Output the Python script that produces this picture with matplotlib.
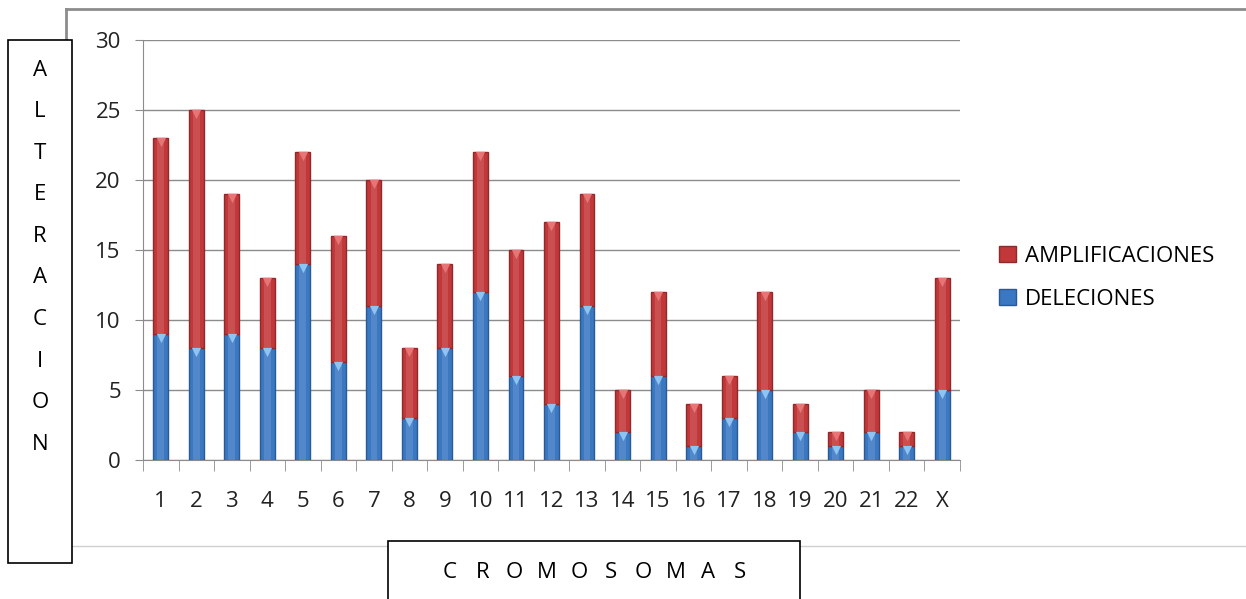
import matplotlib.pyplot as plt
import numpy as np
from matplotlib.patches import Rectangle
from matplotlib.lines import Line2D

plt.rcParams['font.family'] = ['Open Sans', 'DejaVu Sans']

# chromosome labels and counts
cromosomas = ['1', '2', '3', '4', '5', '6', '7', '8', '9', '10', '11', '12',
              '13', '14', '15', '16', '17', '18', '19', '20', '21', '22', 'X']
deleciones = [9, 8, 9, 8, 14, 7, 11, 3, 8, 12, 6, 4, 11, 2, 6, 1, 3, 5, 2, 1, 2, 1, 5]
amplificaciones = [14, 17, 10, 5, 8, 9, 9, 5, 6, 10, 9, 13, 8, 3, 6, 3, 3, 7, 2, 1, 3, 1, 8]

blue = '#3b78c2'
red = '#c2373a'
fs = 16

fig = plt.figure(figsize=(12.46, 5.99), dpi=100)

# outer chart frame (grey, partly hidden by the title boxes)
fig.add_artist(Line2D([66 / 1246, 1.0], [1 - 9 / 599, 1 - 9 / 599], color='#8c8c8c', lw=2, zorder=1))
fig.add_artist(Line2D([66 / 1246, 66 / 1246], [1 - 9 / 599, 1 - 546 / 599], color='#8c8c8c', lw=2, zorder=1))
fig.add_artist(Line2D([66 / 1246, 1.0], [1 - 546 / 599, 1 - 546 / 599], color='#d0d0d0', lw=1, zorder=1))

ax = fig.add_axes([143 / 1246, 1 - 460 / 599, (960 - 143) / 1246, 420 / 599])
ax.patch.set_alpha(0)
x = np.arange(len(cromosomas))
tops = np.array(deleciones) + np.array(amplificaciones)
w = 0.42
ax.bar(x, deleciones, w, color=blue, edgecolor='#2a5a96', linewidth=1, zorder=3, label='DELECIONES')
ax.bar(x, amplificaciones, w, bottom=deleciones, color=red, edgecolor='#8e2a2a', linewidth=1,
       zorder=3, label='AMPLIFICACIONES')
# soft highlight down the middle of each bar
ax.bar(x, tops, w * 0.45, color='white', alpha=0.12, zorder=4, linewidth=0)
# small bevel triangles at the top of each segment
ax.scatter(x, np.array(deleciones) - 0.3, marker='v', s=45, color='#8ec3f2', zorder=5, linewidths=0)
ax.scatter(x, tops - 0.3, marker='v', s=45, color='#e77575', zorder=5, linewidths=0)

ax.set_xlim(-0.5, len(cromosomas) - 0.5)
ax.set_ylim(0, 30)
ax.set_yticks(range(0, 31, 5))
ax.yaxis.grid(True, color='#8c8c8c', lw=1)
ax.set_axisbelow(True)
for s in ['top', 'right']:
    ax.spines[s].set_visible(False)
ax.spines['left'].set_color('#8c8c8c')
ax.spines['bottom'].set_color('#8c8c8c')
ax.tick_params(axis='y', length=6, color='#8c8c8c', labelsize=fs, pad=10, labelcolor='#222222')
ax.set_xticks(x)
ax.set_xticklabels(cromosomas)
ax.tick_params(axis='x', length=0, labelsize=fs, pad=22, labelcolor='#222222')
ax.set_xticks(np.arange(-0.5, len(cromosomas)), minor=True)
ax.tick_params(axis='x', which='minor', length=8, color='#8c8c8c')

handles, labels = ax.get_legend_handles_labels()
fig.legend(handles[::-1], labels[::-1], loc='center left', bbox_to_anchor=(979 / 1246, 1 - 278 / 599),
           frameon=False, fontsize=fs, handlelength=0.75, handleheight=0.75, handletextpad=0.4,
           labelspacing=1.0)

# left title box with vertical letters
fig.add_artist(Rectangle((8 / 1246, 1 - 563 / 599), 64 / 1246, 523 / 599, transform=fig.transFigure,
                         facecolor='white', edgecolor='black', lw=1.2, zorder=5))
for i, ch in enumerate('ALTERACION'):
    fig.text(40 / 1246, 1 - (70 + i * 41.6) / 599, ch, ha='center', va='center', fontsize=fs, zorder=6)

# bottom title box, letters spread out
fig.add_artist(Rectangle((388 / 1246, -0.01), 412 / 1246, (599 - 541) / 599 + 0.01,
                         transform=fig.transFigure, facecolor='white', edgecolor='black', lw=1.2, zorder=5))
for i, ch in enumerate('CROMOSOMAS'):
    fig.text((450 + i * 32.2) / 1246, 1 - 572 / 599, ch, ha='center', va='center', fontsize=fs, zorder=6)

fig.savefig('out.png', dpi=100)
